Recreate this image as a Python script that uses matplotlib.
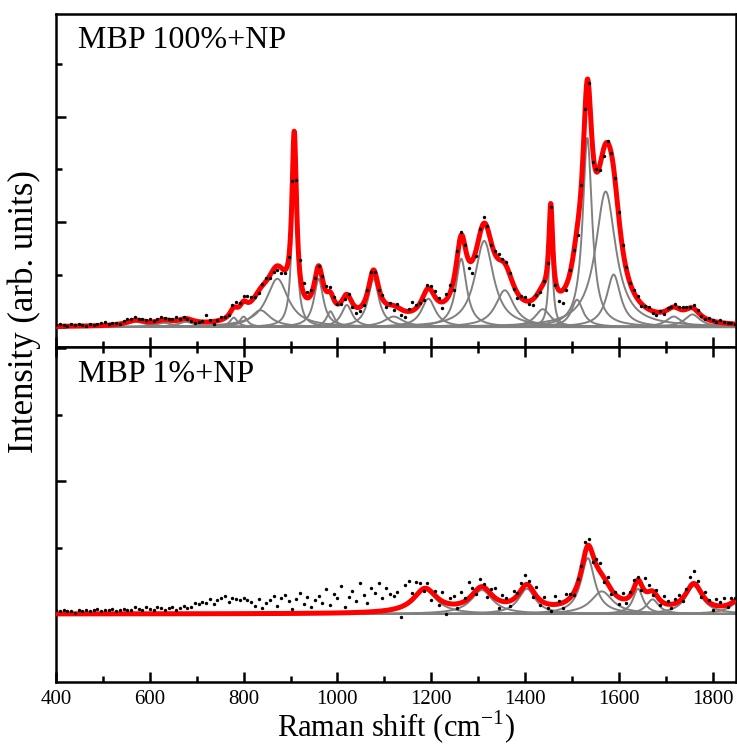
import numpy as np
import matplotlib
matplotlib.use("Agg")
import matplotlib.pyplot as plt

plt.rcParams['font.family'] = ['Liberation Serif', 'DejaVu Serif']
plt.rcParams['mathtext.fontset'] = 'custom'
plt.rcParams['mathtext.rm'] = 'Liberation Serif'

# Fitted Lorentzian bands: centre (cm-1), height (arb.), half width (cm-1)
top_centers = [570, 630, 677, 779, 800, 836, 872, 908, 960, 985, 1020, 1077, 1120,
               1194, 1264, 1313, 1357, 1438, 1455, 1511, 1533, 1572, 1589, 1717, 1757]
top_heights = [0.05, 0.04, 0.05, 0.09, 0.10, 0.16, 0.46, 1.63, 0.46, 0.15, 0.21, 0.46, 0.10,
               0.27, 0.65, 0.82, 0.35, 0.17, 0.9, 0.26, 1.80, 1.29, 0.50, 0.10, 0.12]
top_widths = [25, 20, 20, 10, 10, 25, 28, 6, 12, 10, 14, 14, 25,
              18, 14, 24, 24, 20, 5, 15, 12, 26, 18, 20, 20]

bot_centers = [1187, 1308, 1404, 1534, 1564, 1641, 1672, 1760, 1860]
bot_heights = [0.18, 0.18, 0.19, 0.42, 0.17, 0.19, 0.11, 0.21, 0.10]
bot_widths = [30, 28, 22, 18, 28, 13, 16, 22, 25]

# measured points: deviation from the fitted envelope, one value every 8 cm-1 from 400
top_resid = [0.01, 0.02, 0.01, 0.0, 0.02, 0.01, 0.02, 0.01, 0.0, 0.02,
             0.01, 0.02, 0.02, 0.03, 0.01, 0.02, 0.01, 0.0, 0.02, 0.03,
             0.02, 0.03, 0.01, 0.02, 0.02, 0.03, 0.01, 0.02, 0.03, 0.02,
             0.01, 0.02, 0.03, 0.01, 0.02, 0.0, -0.01, -0.02, 0.0, 0.01,
             0.07, 0.02, -0.02, 0.01, 0.03, 0.01, 0.0, 0.04, 0.05, 0.03,
             0.05, 0.06, 0.04, 0.0, -0.02, 0.02, 0.03, -0.02, -0.03, -0.04,
             -0.05, -0.03, 0.02, 0.0, 0.05, 0.12, 0.1, 0.06, 0.04, 0.02,
             0.0, 0.03, 0.05, 0.04, 0.02, 0.0, -0.02, -0.03, 0.02, -0.04,
             -0.06, -0.04, -0.02, 0.02, 0.03, 0.0, -0.03, 0.04, -0.03, 0.02,
             -0.04, 0.03, -0.05, -0.06, 0.02, 0.08, 0.03, 0.0, -0.04, 0.03,
             0.04, 0.05, 0.03, -0.06, 0.05, 0.08, -0.1, 0.04, 0.03, 0.01,
             -0.08, -0.12, -0.06, 0.04, 0.06, 0.02, -0.02, 0.03, 0.05, 0.02,
             0.04, 0.02, -0.03, -0.05, 0.02, 0.03, -0.03, -0.05, 0.01, -0.02,
             0.02, 0.0, 0.0, -0.08, -0.1, -0.12, -0.05, 0.03, 0.02, -0.1,
             0.0, 0.02, 0.03, -0.15, 0.03, -0.05, -0.07, 0.02, 0.0, 0.02,
             0.05, 0.03, 0.02, 0.0, 0.02, 0.03, -0.02, 0.01, 0.02, -0.02,
             -0.03, 0.01, -0.02, 0.02, 0.01, 0.03, 0.02, 0.03, 0.02, 0.01,
             0.03, 0.02, 0.0, -0.01, 0.02, 0.01, 0.0, 0.02, 0.01, 0.0,
             0.01, 0.0]
bot_resid = [0.03, 0.02, 0.03, 0.02, 0.02, 0.01, 0.03, 0.02, 0.03, 0.02,
             0.03, 0.04, 0.02, 0.03, 0.03, 0.04, 0.02, 0.03, 0.04, 0.03,
             0.03, 0.05, 0.04, 0.03, 0.05, 0.04, 0.03, 0.05, 0.04, 0.03,
             0.04, 0.05, 0.03, 0.04, 0.06, 0.04, 0.05, 0.08, 0.07, 0.09,
             0.08, 0.11, 0.07, 0.10, 0.12, 0.13, 0.09, 0.12, 0.11, 0.10,
             0.12, 0.10, 0.09, 0.06, 0.11, 0.04, 0.08, 0.10, 0.13, 0.06,
             0.12, 0.14, 0.09, 0.03, 0.11, 0.15, 0.07, 0.12, 0.05, 0.10,
             0.13, 0.08, 0.18, 0.06, 0.14, 0.11, 0.20, 0.04, 0.12, 0.16,
             0.09, 0.22, 0.13, 0.07, 0.18, 0.14, 0.21, 0.10, 0.17, 0.12,
             0.10, 0.12, -0.08, 0.15, 0.16, 0.05, 0.10, 0.06, -0.02, 0.04,
             -0.06, 0.03, -0.05, 0.07, -0.08, 0.04, 0.06, -0.03, 0.08, 0.02,
             0.12, 0.05, -0.03, 0.06, 0.02, -0.05, 0.04, 0.07, -0.06, 0.05,
             0.03, -0.04, 0.06, 0.02, 0.05, 0.08, 0.03, -0.05, 0.07, -0.04,
             0.04, -0.03, -0.05, 0.06, 0.02, -0.04, 0.05, 0.03, -0.02, 0.04,
             0.03, 0.08, 0.05, -0.06, 0.04, 0.06, -0.04, 0.05, -0.03, 0.02,
             -0.05, 0.04, -0.03, 0.03, 0.06, 0.02, -0.04, 0.10, 0.05, -0.03,
             0.04, -0.04, 0.05, 0.02, -0.03, 0.03, 0.05, -0.02, 0.03, 0.07,
             0.09, 0.04, -0.03, 0.05, 0.02, -0.04, 0.05, 0.03, 0.06, -0.02,
             0.04, 0.02]

panel_labels = ['MBP 100%+NP', 'MBP 1%+NP']
xticks = [400, 600, 800, 1000, 1200, 1400, 1600, 1800]


def lorentz(x, c, h, w):
    return h / (1 + ((x - c) / w) ** 2)


x = np.linspace(400, 1850, 2000)
x_pts = 400 + 8 * np.arange(len(top_resid))

fig = plt.figure(figsize=(7.37, 7.49), dpi=100)
ax1 = fig.add_axes([0.076, 0.5367, 0.9227, 0.4446])
ax2 = fig.add_axes([0.076, 0.0895, 0.9227, 0.4473])

panels = [(ax1, top_centers, top_heights, top_widths, top_resid, (-0.19, 2.98)),
          (ax2, bot_centers, bot_heights, bot_widths, bot_resid, (-0.511, 2.008))]

for k, (ax, cs, hs, ws, res, yl) in enumerate(panels):
    total = np.zeros_like(x)
    total_pts = np.zeros(len(x_pts))
    for c, h, w in zip(cs, hs, ws):
        comp = lorentz(x, c, h, w)
        total += comp
        total_pts += lorentz(x_pts, c, h, w)
        ax.plot(x, comp, color='#808080', lw=1.4, zorder=2)
    ax.plot(x, total, color='red', lw=3.6, zorder=3)
    ax.scatter(x_pts, total_pts + np.array(res), s=6, color='black', zorder=4, linewidths=0)
    ax.set_yticks([0, 1, 2])
    ax.set_yticks([0.5, 1.5, 2.5], minor=True)
    ax.set_xticks(xticks)
    ax.set_xticks(np.arange(500, 1850, 200), minor=True)
    ax.set_xlim(400, 1850)
    ax.set_ylim(*yl)
    ax.tick_params(which='both', direction='in', width=1.8, labelleft=False,
                   right=False, left=True)
    ax.tick_params(which='major', length=7)
    ax.tick_params(which='minor', length=4)
    for sp in ax.spines.values():
        sp.set_linewidth(1.8)
    ax.text(0.032, 0.965 if k == 0 else 0.96, panel_labels[k], transform=ax.transAxes,
            fontsize=23, va='top', ha='left')

ax1.tick_params(which='both', bottom=True, top=False, labelbottom=False)
ax2.tick_params(which='both', bottom=True, top=True, labelbottom=True, labelsize=15, pad=6)

fig.text(396 / 737, 1 - 737 / 749, 'Raman shift (cm$^{-1}$)', fontsize=22,
         ha='center', va='baseline')
fig.text(0.033, 1 - 312 / 749, 'Intensity (arb. units)', rotation=90, fontsize=25,
         va='center', ha='center')

fig.savefig('out.png', dpi=100)
